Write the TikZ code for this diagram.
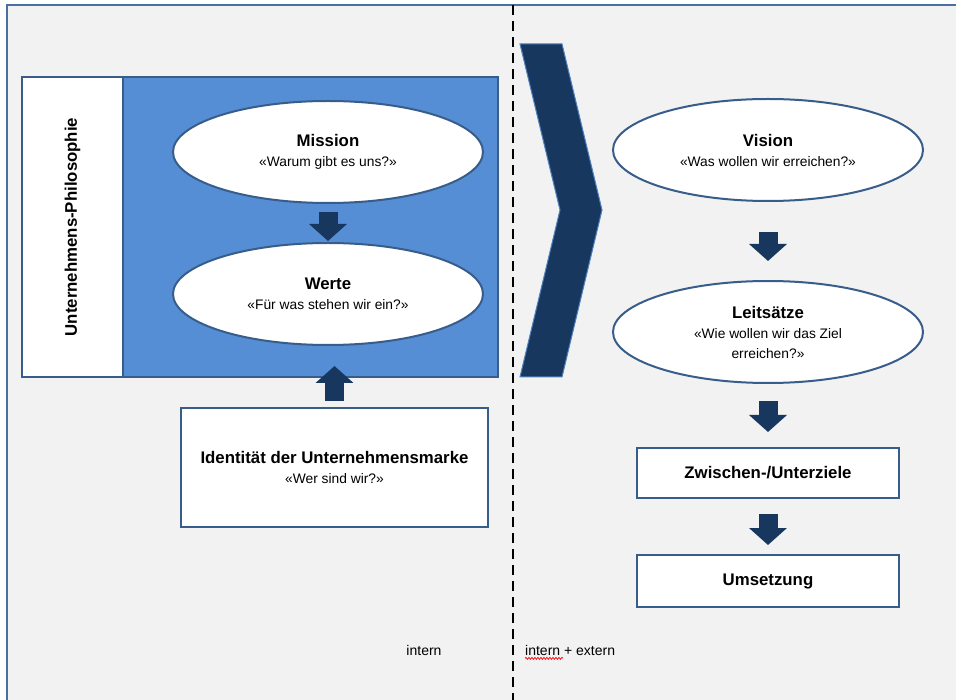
\documentclass[tikz,border=0pt]{standalone}
\usepackage{fontspec}
\setmainfont{Liberation Sans}
\usetikzlibrary{arrows.meta,shapes.geometric,decorations.pathmorphing}

\definecolor{framegray}{HTML}{F2F2F2}
\definecolor{frameblue}{HTML}{4A6FA0}
\definecolor{edgeblue}{HTML}{385D8A}
\definecolor{philoblue}{HTML}{558ED5}
\definecolor{navy}{HTML}{17375E}
\definecolor{chevronedge}{HTML}{4F81BD}

\newcommand{\heading}[1]{{\bfseries\fontsize{16.8}{19}\selectfont #1}}
\newcommand{\question}[1]{{\fontsize{13.8}{19}\selectfont #1}}
\tikzset{
  oval/.style={ellipse, draw=edgeblue, line width=2pt, fill=white,
    minimum width=310pt, minimum height=102pt, inner sep=0pt, align=center,
    font=\fontsize{13.8}{20}\selectfont},
  plainbox/.style={rectangle, draw=edgeblue, line width=2pt, fill=white,
    inner sep=0pt, align=center, font=\fontsize{13.8}{20}\selectfont},
  blockarrow/.style={draw=navy, line width=19pt,
    -{Triangle[width=37pt, length=17pt]}},
}

\begin{document}
\begin{tikzpicture}[x=1pt, y=-1pt]
\useasboundingbox (0,0) rectangle (956,700);
\clip (0,0) rectangle (956,700);
\fill [white] (0,0) rectangle (956,700);
% Frame
\draw [fill=framegray, draw=frameblue, line width=2pt] (7,5) rectangle (980,720);
% intern | extern
\draw [line width=2pt, dash pattern=on 10pt off 6pt] (513,5) -- (513,700);
%
% Philosophy block
\node [rectangle, draw=edgeblue, line width=2pt, fill=philoblue,
  minimum width=476pt, minimum height=300pt] (philo) at (260,227) {};
\node [plainbox, minimum width=101pt, minimum height=300pt] (philolabel) at (72.5,227) {};
\node [rotate=90] at (philolabel) {\heading{Unternehmens-Philosophie}};
% Mission
\node [oval] (mission) at (328,152) {\heading{Mission}\\\question{«Warum gibt es uns?»}};
% Werte
\node [oval] (werte) at (328,294) {\heading{Werte}\\\question{«Für was stehen wir ein?»}};
% Identity
\node [plainbox, minimum width=307pt, minimum height=119pt] (identity) at (334.5,467.5)
  {\heading{Identität der Unternehmensmarke}\\\question{«Wer sind wir?»}};
% Mission --> Werte
\draw [blockarrow, shorten <=8pt, shorten >=1pt] (mission) -- (werte);
% Identity --> Philosophy
\draw [blockarrow, shorten <=6pt, shorten >=-12pt] (identity.north) -- (identity.north |- philo.south);
%
% Chevron
\draw [fill=navy, draw=chevronedge, line width=1pt]
  (520,44) -- (562,44) -- (602,210) -- (562,377) -- (520,377) -- (560,210) -- cycle;
%
% Vision
\node [oval] (vision) at (768,150) {\heading{Vision}\\\question{«Was wollen wir erreichen?»}};
% Leitsaetze
\node [oval] (leit) at (768,332) {\heading{Leitsätze}\\\question{«Wie wollen wir das Ziel}\\\question{erreichen?»}};
% Zwischenziele
\node [plainbox, minimum width=262pt, minimum height=50pt] (zwischen) at (768,473)
  {\heading{Zwischen-/Unterziele}};
% Umsetzung
\node [plainbox, minimum width=262pt, minimum height=52pt] (umsetzung) at (768,581)
  {\heading{Umsetzung}};
% Vision --> Leitsaetze
\draw [blockarrow, shorten <=30pt, shorten >=19pt] (vision) -- (leit);
% Leitsaetze --> Zwischenziele
\draw [blockarrow, shorten <=17pt, shorten >=15pt] (leit) -- (zwischen);
% Zwischenziele --> Umsetzung
\draw [blockarrow, shorten <=15pt, shorten >=9pt] (zwischen) -- (umsetzung);
%
% Labels
\node [font=\fontsize{14}{16}\selectfont] (intern) at (424,650) {intern};
\node [font=\fontsize{14}{16}\selectfont, anchor=west, inner sep=0pt] (extern) at (525,650) {intern + extern};
\draw [red, line width=0.7pt, decorate, decoration={snake, amplitude=1pt, segment length=3pt}]
  ([yshift=-3pt]extern.south west) -- ++(38,0);
\end{tikzpicture}
\end{document}
